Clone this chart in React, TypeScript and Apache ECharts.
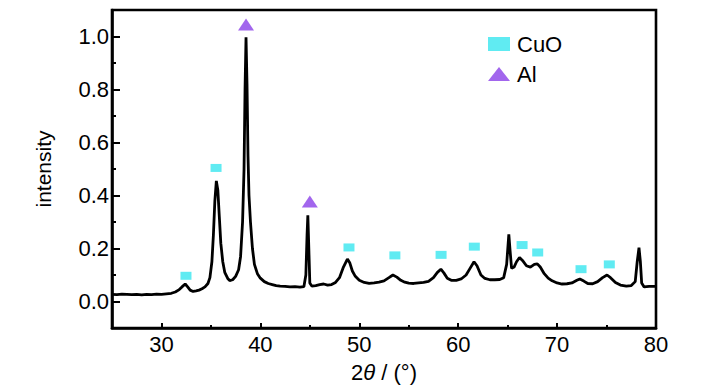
import React, { useEffect, useRef } from "react";
import * as echarts from "echarts";

// XRD pattern: [2θ, intensity]
const pattern: [number, number][] = [
  [25.0, 0.027], [25.5, 0.026], [26.0, 0.028], [26.5, 0.027], [27.0, 0.026],
  [27.5, 0.027], [28.0, 0.025], [28.5, 0.027], [29.0, 0.026], [29.5, 0.028],
  [30.0, 0.027], [30.5, 0.029], [31.0, 0.031], [31.4, 0.036], [31.8, 0.045],
  [32.1, 0.056], [32.4, 0.066], [32.65, 0.055], [32.9, 0.043], [33.2, 0.038],
  [33.5, 0.04], [33.8, 0.043], [34.1, 0.048], [34.4, 0.055], [34.7, 0.068],
  [34.9, 0.09], [35.1, 0.15], [35.25, 0.25], [35.4, 0.38], [35.55, 0.455],
  [35.7, 0.42], [35.85, 0.32], [36.0, 0.22], [36.2, 0.15], [36.4, 0.11],
  [36.7, 0.087], [36.9, 0.079], [37.2, 0.082], [37.5, 0.095], [37.8, 0.12],
  [38.0, 0.17], [38.2, 0.3], [38.35, 0.5], [38.45, 0.8], [38.55, 0.997],
  [38.65, 0.82], [38.75, 0.55], [38.85, 0.4], [39.0, 0.3], [39.2, 0.2],
  [39.4, 0.14], [39.7, 0.105], [40.0, 0.088], [40.4, 0.075], [40.8, 0.068],
  [41.2, 0.064], [41.6, 0.06], [42.0, 0.058], [42.5, 0.057], [43.0, 0.055],
  [43.5, 0.056], [44.0, 0.054], [44.4, 0.056], [44.6, 0.1], [44.72, 0.25],
  [44.8, 0.325], [44.9, 0.2], [45.0, 0.07], [45.2, 0.058], [45.6, 0.06],
  [46.0, 0.064], [46.4, 0.066], [46.8, 0.062], [47.2, 0.064], [47.6, 0.072],
  [48.0, 0.09], [48.4, 0.13], [48.8, 0.16], [49.05, 0.145], [49.3, 0.115],
  [49.6, 0.095], [50.0, 0.08], [50.5, 0.072], [51.0, 0.068], [51.5, 0.07],
  [52.0, 0.073], [52.5, 0.078], [53.0, 0.09], [53.4, 0.1], [53.8, 0.092],
  [54.2, 0.08], [54.6, 0.073], [55.0, 0.069], [55.5, 0.068], [56.0, 0.07],
  [56.5, 0.072], [57.0, 0.076], [57.5, 0.09], [57.9, 0.11], [58.25, 0.122],
  [58.55, 0.108], [58.9, 0.088], [59.3, 0.08], [59.8, 0.08], [60.3, 0.085],
  [60.8, 0.1], [61.2, 0.125], [61.6, 0.15], [61.9, 0.135], [62.3, 0.1],
  [62.7, 0.087], [63.2, 0.082], [63.7, 0.082], [64.2, 0.083], [64.6, 0.09],
  [64.9, 0.14], [65.12, 0.253], [65.25, 0.19], [65.4, 0.125], [65.65, 0.13],
  [65.9, 0.15], [66.2, 0.166], [66.5, 0.155], [66.9, 0.135], [67.3, 0.13],
  [67.7, 0.14], [68.0, 0.142], [68.3, 0.13], [68.7, 0.105], [69.1, 0.088],
  [69.5, 0.078], [70.0, 0.07], [70.5, 0.066], [71.0, 0.067], [71.5, 0.07],
  [72.0, 0.08], [72.3, 0.085], [72.7, 0.077], [73.1, 0.068], [73.6, 0.067],
  [74.1, 0.075], [74.6, 0.09], [75.05, 0.1], [75.4, 0.09], [75.9, 0.072],
  [76.4, 0.062], [77.0, 0.058], [77.5, 0.06], [77.9, 0.075], [78.1, 0.15],
  [78.28, 0.203], [78.42, 0.15], [78.55, 0.07], [78.8, 0.055], [79.3, 0.057],
  [80.0, 0.057],
];

// Peak markers
const cuoMarks: [number, number][] = [
  [32.48, 0.097], [35.52, 0.504], [48.96, 0.204], [53.6, 0.174], [58.27, 0.176],
  [61.63, 0.207], [66.46, 0.213], [68.04, 0.185], [72.42, 0.122], [75.28, 0.14],
];
const alMarks: [number, number][] = [
  [38.55, 1.045], [45.0, 0.377],
];

const xMajor = [30, 40, 50, 60, 70, 80];
const xMinor = [35, 45, 55, 65, 75];
const yMajor = [0, 0.2, 0.4, 0.6, 0.8, 1.0];
const yMinor = [-0.1, 0.1, 0.3, 0.5, 0.7, 0.9];

const FONT = "'Liberation Sans', Arial, sans-serif";
const CYAN = "#38e6ef";
const PURPLE = "#8b40e8";

export default function App() {
  const ref = useRef<HTMLDivElement>(null);
  useEffect(() => {
    if (!ref.current) return;
    const chart = echarts.init(ref.current, undefined, { renderer: "svg" });
    const axisLine = { show: true, onZero: false, lineStyle: { color: "#000", width: 2.6 } };
    chart.setOption({
      animation: false,
      backgroundColor: "#fff",
      textStyle: { fontFamily: FONT, color: "#000" },
      grid: {
        left: 112, right: 72, top: 10, bottom: 62,
        show: true, borderColor: "#000", borderWidth: 2.6, backgroundColor: "transparent",
      },
      legend: {
        orient: "vertical",
        left: 483,
        top: 28,
        itemWidth: 22,
        itemHeight: 14,
        itemGap: 8,
        textStyle: { fontSize: 22, lineHeight: 22, fontFamily: FONT, color: "#000", padding: [0, 0, 0, 2] },
        data: [
          { name: "CuO", icon: "rect" },
          { name: "Al", icon: "triangle" },
        ],
      },
      xAxis: [
        {
          type: "value", min: 25, max: 80, position: "bottom",
          axisLine,
          axisTick: { show: true, inside: true, length: 5, customValues: xMajor, lineStyle: { color: "#000", width: 2 } },
          axisLabel: { show: true, customValues: xMajor, fontSize: 22, color: "#000", margin: 5, fontFamily: FONT },
          splitLine: { show: false },
          name: "{n|2}{t|θ}{n| / (°)}",
          nameLocation: "middle",
          nameGap: 33,
          nameTextStyle: {
            rich: {
              n: { fontSize: 22, fontFamily: FONT, color: "#000" },
              t: { fontSize: 22, fontFamily: FONT, fontStyle: "italic", color: "#000" },
            },
          },
        },
        {
          type: "value", min: 25, max: 80, position: "bottom", offset: 0,
          axisLine: { show: false, onZero: false },
          axisTick: { show: true, inside: true, length: 3, customValues: xMinor, lineStyle: { color: "#000", width: 2 } },
          axisLabel: { show: false },
          splitLine: { show: false },
        },
      ],
      yAxis: [
        {
          type: "value", min: -0.1, max: 1.1, position: "left",
          axisLine,
          axisTick: { show: true, inside: true, length: 8, customValues: yMajor, lineStyle: { color: "#000", width: 2 } },
          axisLabel: {
            show: true, customValues: yMajor, fontSize: 22, color: "#000", margin: 3, fontFamily: FONT,
            formatter: (v: number) => v.toFixed(1),
          },
          splitLine: { show: false },
          name: "intensity",
          nameLocation: "middle",
          nameGap: 58,
          nameTextStyle: { fontSize: 21, fontFamily: FONT, color: "#000" },
        },
        {
          type: "value", min: -0.1, max: 1.1, position: "left", offset: 0,
          axisLine: { show: false, onZero: false },
          axisTick: { show: true, inside: true, length: 4, customValues: yMinor, lineStyle: { color: "#000", width: 2 } },
          axisLabel: { show: false },
          splitLine: { show: false },
        },
      ],
      series: [
        {
          name: "pattern",
          type: "line",
          data: pattern,
          showSymbol: false,
          symbol: "none",
          lineStyle: { color: "#000", width: 2.8 },
          itemStyle: { color: "#000" },
          z: 2,
        },
        {
          name: "CuO",
          type: "scatter",
          data: cuoMarks,
          symbol: "rect",
          symbolSize: [11, 8],
          itemStyle: { color: CYAN },
          z: 3,
        },
        {
          name: "Al",
          type: "scatter",
          data: alMarks,
          symbol: "triangle",
          symbolSize: [16, 12],
          itemStyle: { color: PURPLE },
          z: 3,
        },
      ],
    });
    return () => chart.dispose();
  }, []);
  return (
    <div
      ref={ref}
      style={{ position: "fixed", left: 0, top: 0, width: 728, height: 390, background: "#fff" }}
    />
  );
}
